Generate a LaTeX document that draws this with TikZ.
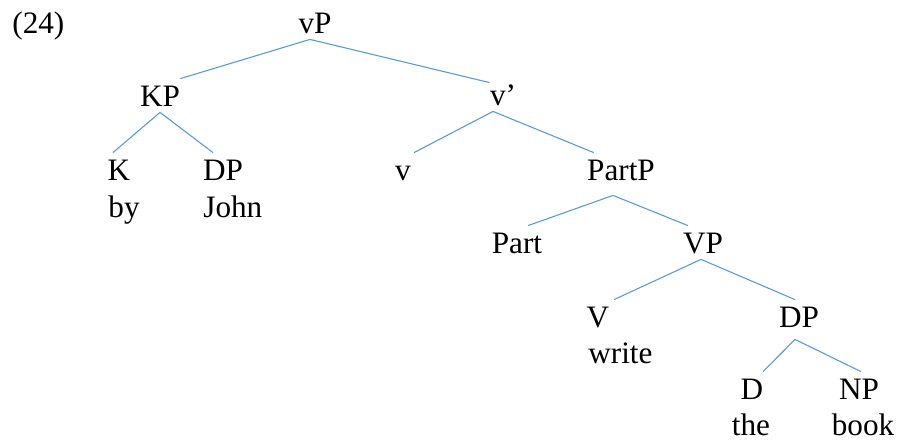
\documentclass[tikz,border=0pt]{standalone}
\usepackage{fontspec}
\setmainfont{Liberation Serif}
\newfontfamily\treefont{Liberation Serif}
\definecolor{branchblue}{RGB}{91,155,213}
\tikzset{
    cat/.style={anchor=base, inner xsep=0pt, inner ysep=2.5pt, text height=11pt, text depth=0.5pt},
    word/.style={anchor=base west, inner sep=0pt},
    branch/.style={draw=branchblue, line width=0.55pt}
}

\begin{document}
\begin{tikzpicture}[x=0.5pt, y=-0.5pt, font=\treefont\fontsize{15.6}{18}\selectfont]
    \useasboundingbox (0, 0) rectangle (900, 440);

    \node[word] (Example) at (12, 33) {(24)};

    \node[cat] (vP) at (315, 33) {vP};
    \node[cat] (KP) at (160, 106) {KP};
    \node[cat] (vbar) at (503, 105) {v’};

    \node[cat] (K) at (119, 180) {K};
    \node[cat] (DPjohn) at (223, 180) {DP};
    \node[cat] (v) at (403, 180) {v};
    \node[cat] (PartP) at (621, 180) {PartP};
    \node[word] (by) at (108, 217) {by};
    \node[word] (John) at (203, 217) {John};

    \node[cat] (Part) at (517, 253) {Part};
    \node[cat] (VP) at (703, 253) {VP};

    \node[cat] (V) at (598, 327) {V};
    \node[cat] (DPbook) at (799, 327) {DP};
    \node[word] (write) at (588, 363) {write};

    \node[cat] (D) at (752, 399) {D};
    \node[cat] (NP) at (859, 399) {NP};
    \node[anchor=base, inner sep=0pt] (the) at (751, 435) {the};
    \node[anchor=base, inner sep=0pt] (book) at (863, 435) {book};

    \draw[branch] ([xshift=-2.5pt]vP.south) -- (KP.north east);
    \draw[branch] ([xshift=-2.5pt]vP.south) -- ([yshift=-2.5pt]vbar.north west);

    \draw[branch] (KP.south) -- ([xshift=-3pt]K.north);
    \draw[branch] (KP.south) -- ([xshift=-5pt]DPjohn.north);

    \draw[branch] ([xshift=-5pt]vbar.south) -- ([xshift=5.5pt]v.north);
    \draw[branch] ([xshift=-5pt]vbar.south) -- ([xshift=3.5pt]PartP.north west);

    \draw[branch] ([xshift=-4pt, yshift=-4.5pt]PartP.south) -- ([xshift=5.5pt]Part.north);
    \draw[branch] ([xshift=-4pt, yshift=-4.5pt]PartP.south) -- ([xshift=-7.5pt]VP.north);

    \draw[branch] ([xshift=-1pt]VP.south) -- ([xshift=8pt]V.north);
    \draw[branch] ([xshift=-1pt]VP.south) -- ([xshift=-2pt]DPbook.north);

    \draw[branch] ([xshift=-2pt, yshift=-3pt]DPbook.south) -- ([xshift=5.5pt]D.north);
    \draw[branch] ([xshift=-2pt, yshift=-3pt]DPbook.south) -- ([xshift=1pt]NP.north);
\end{tikzpicture}
\end{document}
